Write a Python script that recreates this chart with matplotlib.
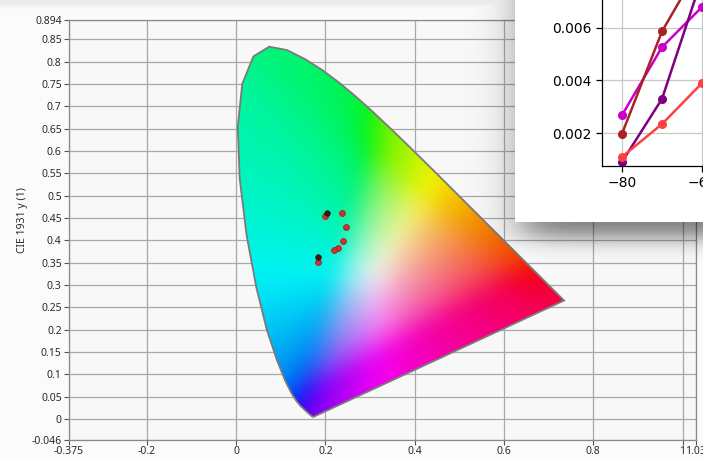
import numpy as np
import matplotlib
matplotlib.use("Agg")
import matplotlib.pyplot as plt
from matplotlib.patches import Polygon, Rectangle
from matplotlib.ticker import FormatStrFormatter

W, H = 703, 459

# CIE 1931 2 deg spectral locus, 380 -> 700 nm
LOCUS_X = [0.1741, 0.1733, 0.1714, 0.1689, 0.1644, 0.1566, 0.1440, 0.1355,
           0.1241, 0.1096, 0.0913, 0.0687, 0.0454, 0.0235, 0.0082, 0.0039,
           0.0139, 0.0389, 0.0743, 0.1142, 0.1547, 0.1929, 0.2296, 0.2658,
           0.3016, 0.3373, 0.3731, 0.4087, 0.4441, 0.4788, 0.5125, 0.5448,
           0.5752, 0.6029, 0.6270, 0.6482, 0.6658, 0.6915, 0.7079, 0.7190,
           0.7260, 0.7300, 0.7334, 0.7347]
LOCUS_Y = [0.0050, 0.0048, 0.0051, 0.0069, 0.0109, 0.0177, 0.0297, 0.0399,
           0.0578, 0.0868, 0.1327, 0.2007, 0.2950, 0.4127, 0.5384, 0.6548,
           0.7502, 0.8120, 0.8338, 0.8262, 0.8059, 0.7816, 0.7543, 0.7243,
           0.6923, 0.6589, 0.6245, 0.5896, 0.5547, 0.5202, 0.4866, 0.4544,
           0.4242, 0.3965, 0.3725, 0.3514, 0.3340, 0.3083, 0.2920, 0.2809,
           0.2740, 0.2700, 0.2666, 0.2653]

# measured chromaticities
RED_X = [0.2000, 0.2374, 0.2470, 0.2396, 0.2278, 0.2202, 0.1843]
RED_Y = [0.4553, 0.4607, 0.4307, 0.3987, 0.3823, 0.3785, 0.3509]
DARK_X = [0.2038, 0.1843]
DARK_Y = [0.4607, 0.3635]

X_TICKS = [-0.375, -0.2, 0, 0.2, 0.4, 0.6, 0.8, 1, 1.03]
X_LABELS = ["-0.375", "-0.2", "0", "0.2", "0.4", "0.6", "0.8", "1", "1.03"]
Y_TICKS = [-0.046, 0, 0.05, 0.1, 0.15, 0.2, 0.25, 0.3, 0.35, 0.4, 0.45, 0.5,
           0.55, 0.6, 0.65, 0.7, 0.75, 0.8, 0.85, 0.894]
Y_LABELS = ["-0.046", "0", "0.05", "0.1", "0.15", "0.2", "0.25", "0.3", "0.35",
            "0.4", "0.45", "0.5", "0.55", "0.6", "0.65", "0.7", "0.75", "0.8",
            "0.85", "0.894"]

# inset window (other plot, partly visible)
INS_X = [-80, -70, -60]
INS_MAGENTA = [0.00268, 0.00527, 0.00680]
INS_BROWN = [0.00197, 0.00587, 0.00850]
INS_PURPLE = [0.00090, 0.00330, 0.00790]
INS_RED = [0.00109, 0.00234, 0.00390]


def box_blur(a, r, axis):
    pad = [(0, 0)] * a.ndim
    pad[axis] = (r + 1, r)
    c = np.cumsum(np.pad(a, pad, mode="edge"), axis=axis)
    n = a.shape[axis]
    hi = np.take(c, np.arange(2 * r + 1, 2 * r + 1 + n), axis=axis)
    lo = np.take(c, np.arange(0, n), axis=axis)
    return (hi - lo) / (2 * r + 1)


def to_srgb(c):
    c = c / c.max(axis=-1, keepdims=True)
    return np.where(c <= 0.0031308, 12.92 * c, 1.055 * c ** (1 / 2.4) - 0.055)


fig = plt.figure(figsize=(W / 100, H / 100), dpi=100, facecolor="#fbfbfb")

# main axes: 446.5 px per unit, origin at px (236, 419)
px_l, px_r = 68.6, 695.9
py_t, py_b = 19.8, 439.5
ax = fig.add_axes([px_l / W, 1 - py_b / H, (px_r - px_l) / W, (py_b - py_t) / H])
ax.set_facecolor("#f8f8f8")
ax.set_xlim(-0.375, 1.03)
ax.set_ylim(-0.046, 0.894)
ax.set_xticks(X_TICKS)
ax.set_xticklabels(X_LABELS)
ax.set_yticks(Y_TICKS)
ax.set_yticklabels(Y_LABELS)
ax.set_axisbelow(True)
ax.grid(True, color="#a8a8a8", lw=0.9)
for s in ax.spines.values():
    s.set_color("#8a8a8a")
    s.set_linewidth(0.9)
ax.tick_params(direction="out", length=3.5, width=0.8, color="#555555",
               labelsize=7.5, labelcolor="#2a2a2a", pad=1.5)
for lab in ax.get_xticklabels() + ax.get_yticklabels():
    lab.set_family("Noto Sans")

fig.text(23 / W, 1 - 220 / H, "CIE 1931 y (1)", rotation=90, ha="center",
         va="center", fontsize=7.5, color="#2a2a2a", family="Noto Sans")

# chromaticity colours
gx = np.linspace(-0.05, 0.79, 560)
gy = np.linspace(-0.05, 0.89, 620)
xx, yy = np.meshgrid(gx, gy)
ys = np.maximum(yy, 4e-3)
XYZ = np.stack([xx / ys, np.ones_like(xx), np.abs(1 - xx - yy) / ys], axis=-1)
M = np.array([[3.2406, -1.5372, -0.4986],
              [-0.9689, 1.8758, 0.0415],
              [0.0557, -0.2040, 1.0570]])
lin = XYZ @ M.T
desat = to_srgb(lin - np.minimum(lin.min(axis=-1, keepdims=True), 0))
clipped = to_srgb(np.clip(lin, 0, None) + 1e-9)
rgb = np.clip(0.75 * desat + 0.25 * clipped, 0, 1) * 0.96
for _ in range(3):
    rgb = box_blur(rgb, 14, 0)
    rgb = box_blur(rgb, 14, 1)

im = ax.imshow(rgb, extent=(-0.05, 0.79, -0.05, 0.89), origin="lower",
               aspect="auto", interpolation="bilinear", zorder=2)
locus = Polygon(np.column_stack([LOCUS_X, LOCUS_Y]), closed=True, fc="none",
                ec="#7a7a7a", lw=1.3, zorder=3)
ax.add_patch(locus)
im.set_clip_path(locus)

ax.plot(RED_X, RED_Y, "o", ms=4.2, mfc="#cc3434", mec="#a02020", mew=0.6, zorder=4)
ax.plot(DARK_X, DARK_Y, "o", ms=4.0, mfc="#3a1616", mec="#2a1010", mew=0.5, zorder=5)

# overlay: window shadow + white window
ov = fig.add_axes([0, 0, 1, 1], zorder=5)
ov.set_xlim(0, W)
ov.set_ylim(H, 0)
ov.axis("off")
ov.patch.set_visible(False)
pxg, pyg = np.meshgrid(np.arange(W) + 0.5, np.arange(H) + 0.5)
sig = lambda t: 1 / (1 + np.exp(-t))
alpha = 0.5 * sig((pxg - 522) / 12.8) * sig((237.5 - pyg) / 6.25)
alpha = np.maximum(alpha, 0.07 * sig((6 - pyg) / 1.5))
shadow = np.zeros((H, W, 4))
shadow[..., 3] = alpha
ov.imshow(shadow, extent=(0, W, H, 0), aspect="auto", interpolation="bilinear")
ov.add_patch(Rectangle((515, -5), 200, 227, fc="white", ec="none"))

# inset plot inside the window
ins = fig.add_axes([602 / W, 1 - 166 / H, 300 / W, 226 / H], zorder=6)
ins.set_xlim(-85, -10)
ins.set_ylim(0.000743, 0.009352)
ins.set_xticks([-80, -60, -40, -20])
ins.set_yticks([0.002, 0.004, 0.006, 0.008])
ins.yaxis.set_major_formatter(FormatStrFormatter("%.3f"))
ins.grid(True, color="#c8c8c8", lw=0.9)
ins.set_axisbelow(True)
ins.tick_params(labelsize=10, length=4.5, width=0.9, pad=3)
for s in ins.spines.values():
    s.set_linewidth(0.9)
ins.plot(INS_X, INS_MAGENTA, "-o", color="#c800c8", lw=1.8, ms=5.5)
ins.plot(INS_X, INS_BROWN, "-o", color="#a82424", lw=1.8, ms=5.5)
ins.plot(INS_X, INS_PURPLE, "-o", color="#800080", lw=1.8, ms=5.5)
ins.plot(INS_X, INS_RED, "-o", color="#ff4040", lw=1.8, ms=5.5)

fig.savefig("out.png", dpi=100, facecolor=fig.get_facecolor())
